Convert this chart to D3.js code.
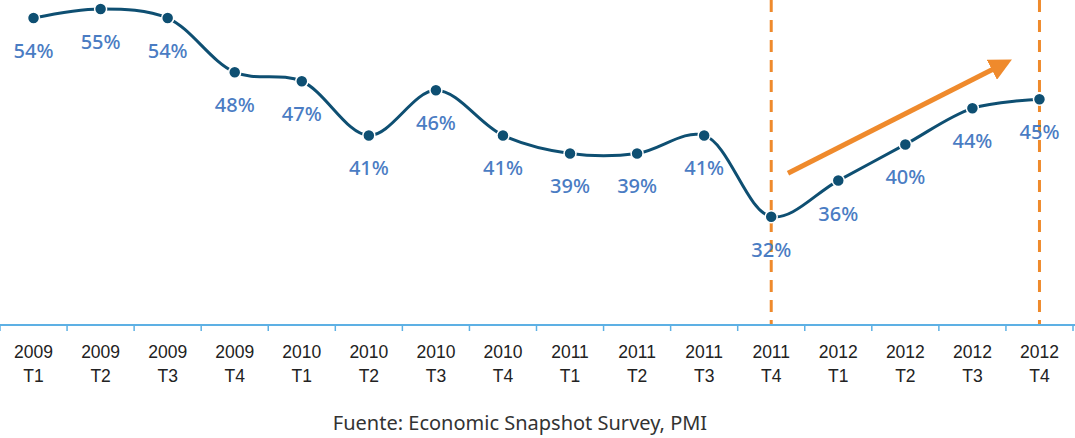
<!DOCTYPE html>
<html>
<head>
<meta charset="utf-8">
<script src="https://cdn.jsdelivr.net/npm/d3@7"></script>
<style>
  body { margin: 0; background: #fff; }
  svg { display: block; font-family: "Noto Sans", "Open Sans", sans-serif; }
</style>
</head>
<body>
<div class="chart"></div>
<script>
// data
const years = ["2009","2009","2009","2009","2010","2010","2010","2010","2011","2011","2011","2011","2012","2012","2012","2012"];
const quarters = ["T1","T2","T3","T4","T1","T2","T3","T4","T1","T2","T3","T4","T1","T2","T3","T4"];
const values = [54, 55, 54, 48, 47, 41, 46, 41, 39, 39, 41, 32, 36, 40, 44, 45];
const markerIdx = [11, 15];            // dashed vertical markers
const arrowFrom = [11.25, 36.8];       // [quarter position, value]
const arrowTo = [14.35, 48.5];
const source = "Fuente: Economic Snapshot Survey, PMI";

const width = 1075, height = 438;
const axisY = 325;

const svg = d3.selectAll(".chart")
    .append("svg")
    .attr("width", width)
    .attr("height", height);

const keys = values.map((d, i) => i);

const xScale = d3.scaleBand()
    .domain(keys)
    .range([0, 1073]);

const xPos = i => xScale(0) + (i + 0.5) * xScale.step();

const yScale = d3.scaleLinear()
    .domain([20, 56])
    .range([axisY, 0]);

// x axis
const xAxis = d3.axisBottom(xScale).tickSize(0).tickFormat("");
const axisG = svg.append("g")
    .attr("transform", `translate(0, ${axisY})`)
    .call(xAxis);
axisG.select(".domain").remove();
axisG.append("line")
    .attr("x1", 0).attr("x2", width)
    .attr("stroke", "#5db0e4").attr("stroke-width", 2);
// tick marks at band boundaries
axisG.selectAll(".sep")
    .data(d3.range(values.length + 1))
    .enter().append("line")
    .attr("class", "sep")
    .attr("x1", i => Math.min(xScale(0) + i * xScale.step(), 1073))
    .attr("x2", i => Math.min(xScale(0) + i * xScale.step(), 1073))
    .attr("y1", 0).attr("y2", 6)
    .attr("stroke", "#5db0e4").attr("stroke-width", 1.5);

// tick labels
const lbl = axisG.selectAll(".tick")
    .append("text")
    .attr("fill", "#222")
    .attr("font-size", 17.5)
    .attr("text-anchor", "middle");
lbl.append("tspan").attr("x", 0).attr("y", 33).text(d => years[d]);
lbl.append("tspan").attr("x", 0).attr("y", 57).text(d => quarters[d]);

// dashed markers
svg.selectAll(".marker")
    .data(markerIdx)
    .enter().append("line")
    .attr("x1", d => xPos(d)).attr("x2", d => xPos(d))
    .attr("y1", 0).attr("y2", axisY - 1)
    .attr("stroke", "#ef8a2c")
    .attr("stroke-width", 3)
    .attr("stroke-dasharray", "12,8");

// line
const line = d3.line()
    .x((d, i) => xPos(i))
    .y(d => yScale(d))
    .curve(d3.curveCatmullRom.alpha(0.5));

svg.append("path")
    .datum(values)
    .attr("fill", "none")
    .attr("stroke", "#0e4f72")
    .attr("stroke-width", 3)
    .attr("d", line);

// arrow
const defs = svg.append("defs");
defs.append("marker")
    .attr("id", "arrowhead")
    .attr("viewBox", "0 0 10 10")
    .attr("refX", 2).attr("refY", 5)
    .attr("markerWidth", 4.5).attr("markerHeight", 4.5)
    .attr("orient", "auto")
    .append("path")
    .attr("d", "M0,0 L10,5 L0,10 Z")
    .attr("fill", "#ef8a2c");

svg.append("line")
    .attr("x1", xPos(arrowFrom[0])).attr("y1", yScale(arrowFrom[1]))
    .attr("x2", xPos(arrowTo[0])).attr("y2", yScale(arrowTo[1]))
    .attr("stroke", "#ef8a2c")
    .attr("stroke-width", 5)
    .attr("marker-end", "url(#arrowhead)");

// dots
svg.selectAll(".dot")
    .data(values)
    .enter().append("circle")
    .attr("cx", (d, i) => xPos(i))
    .attr("cy", d => yScale(d))
    .attr("r", 6)
    .attr("fill", "#0e4f72")
    .attr("stroke", "#fff")
    .attr("stroke-width", 1.5);

// value labels
svg.selectAll(".val")
    .data(values)
    .enter().append("text")
    .attr("x", (d, i) => xPos(i))
    .attr("y", d => yScale(d) + 40)
    .attr("text-anchor", "middle")
    .attr("font-size", 20)
    .attr("font-weight", 500)
    .attr("fill", "#4a7cc3")
    .text(d => d + "%");

// source
svg.append("text")
    .attr("x", 520).attr("y", 430)
    .attr("text-anchor", "middle")
    .attr("font-size", 20)
    .attr("fill", "#333")
    .text(source);
</script>
</body>
</html>
